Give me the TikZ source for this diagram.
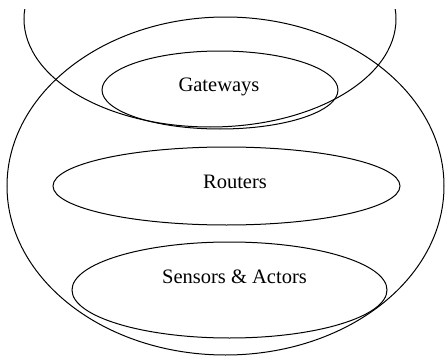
\documentclass[tikz,border=0pt]{standalone}
\usepackage{fontspec}
\setmainfont{Liberation Serif}
\usetikzlibrary{shapes.geometric}

\begin{document}
\begin{tikzpicture}[
    x=1pt, y=-1pt,
    every node/.style={font=\fontsize{20.5}{24}\selectfont},
    set/.style={draw, ellipse, line width=1pt, inner sep=0pt},
    lbl/.style={inner sep=0pt}
]
\useasboundingbox (0,0) rectangle (445,356);
\clip (0,0) rectangle (445,356);
% outer sets (the upper one is cut off at the top)
\begin{scope}
  \clip (0,9) rectangle (445,356);
  \node[set, minimum width=372pt, minimum height=216pt] (inet) at (210,19) {};
\end{scope}
\node[set, minimum width=437pt, minimum height=338pt] (wsn) at (225.5,186) {};
% inner sets
\node[set, minimum width=236pt, minimum height=78pt] (gw) at (220,90) {};
\node[set, minimum width=347pt, minimum height=78pt] (rt) at (226.5,186) {};
\node[set, minimum width=315pt, minimum height=96pt] (sa) at (229.5,290) {};
% labels
\node[lbl] (gwtext) at (219,87) {Gateways};
\node[lbl] (rttext) at (235,182) {Routers};
\node[lbl] (satext) at (234.5,277) {Sensors \& Actors};
\end{tikzpicture}
\end{document}
